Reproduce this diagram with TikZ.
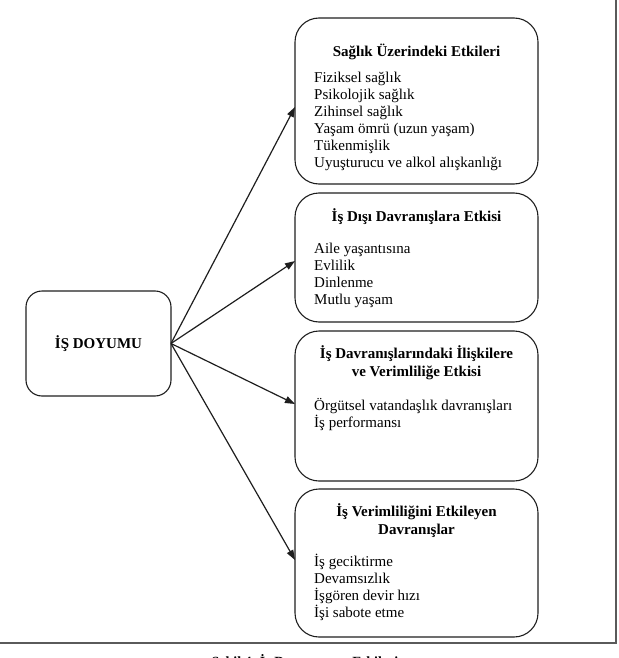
\documentclass[tikz,border=0pt]{standalone}
\usepackage{fontspec}
\setmainfont{Liberation Serif}
\usepackage{tikz}
\usetikzlibrary{positioning, arrows.meta, calc}
\definecolor{LineColor}{RGB}{30,30,30}
\definecolor{FrameColor}{RGB}{90,90,90}

\begin{document}
\begin{tikzpicture}[x=1pt, y=-1pt,
    txt/.style={font=\fontsize{15}{17}\selectfont, inner sep=0pt},
    ttl/.style={txt, font=\fontsize{15}{18}\selectfont\bfseries, align=center},
    lst/.style={txt, align=left, anchor=north west},
    etkibox/.style={draw=LineColor, line width=1.1pt, rounded corners=24pt},
    ok/.style={draw=LineColor, line width=1.2pt, -{Triangle[length=10pt, width=7pt]}}]
  \useasboundingbox (0,0) rectangle (618,658);
  % frame
  \draw[FrameColor, line width=1.6pt] (616,0) -- (616,643) -- (0,643);
  % left box
  \draw[etkibox, rounded corners=16pt] (26,291) rectangle (171,396);
  \node[txt, font=\fontsize{15}{17}\selectfont\bfseries] (doyum) at (98.5,343.5) {İŞ DOYUMU};
  \coordinate (kaynak) at (171,343.5);
  % right boxes
  \draw[etkibox] (295,18) rectangle (538,184);
  \draw[etkibox] (295,193) rectangle (538,322);
  \draw[etkibox] (295,331) rectangle (538,481);
  \draw[etkibox] (295,489) rectangle (538,637);
  \coordinate (saglik) at (295,107);
  \coordinate (isdisi) at (295,261);
  \coordinate (iliski) at (295,404);
  \coordinate (verim) at (295,560);
  % titles
  \node[ttl] (t1) at (416.5,52) {Sağlık Üzerindeki Etkileri};
  \node[ttl] (t2) at (416.5,217) {İş Dışı Davranışlara Etkisi};
  \node[ttl] (t3) at (416.5,363) {İş Davranışlarındaki İlişkilere\\ve Verimliliğe Etkisi};
  \node[ttl] (t4) at (416.5,520.5) {İş Verimliliğini Etkileyen\\Davranışlar};
  % lists
  \node[lst] (l1) at (314,71.5) {Fiziksel sağlık\\Psikolojik sağlık\\Zihinsel sağlık\\Yaşam ömrü (uzun yaşam)\\Tükenmişlik\\Uyuşturucu ve alkol alışkanlığı};
  \node[lst] (l2) at (314,242.5) {Aile yaşantısına\\Evlilik\\Dinlenme\\Mutlu yaşam};
  \node[lst] (l3) at (314,398) {Örgütsel vatandaşlık davranışları\\İş performansı};
  \node[lst] (l4) at (314,554) {İş geciktirme\\Devamsızlık\\İşgören devir hızı\\İşi sabote etme};
  % arrows
  \foreach \hedef in {saglik, isdisi, iliski, verim}
    \draw[ok] (kaynak) -- (\hedef);
  % caption
  \node[txt, font=\fontsize{14}{17}\selectfont\bfseries, anchor=base] (sekil) at (305,666) {Şekil 4. İş Doyumunun Etkileri};
\end{tikzpicture}
\end{document}
